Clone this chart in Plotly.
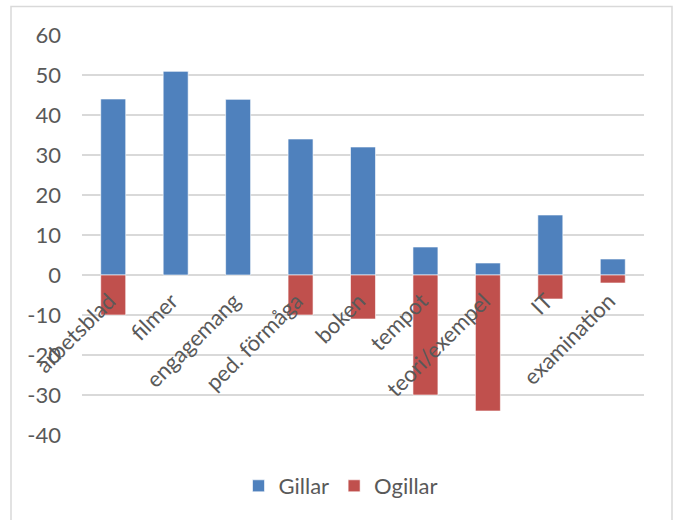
import plotly.graph_objects as go

categories = ["arbetsblad", "filmer", "engagemang", "ped. förmåga", "boken",
              "tempot", "teori/exempel", "IT", "examination"]
gillar = [44, 51, 44, 34, 32, 7, 3, 15, 4]
ogillar = [-10, 0, 0, -10, -11, -30, -34, -6, -2]
y_ticks = [-40, -30, -20, -10, 0, 10, 20, 30, 40, 50, 60]
y_tick_labels = ["-40", "-30", "-20", "-10", "0", "10", "20", "30", "40", "50", "60"]

W, H = 674, 520
L, R, T, B = 82, 30, 35, 85
pw, ph = W - L - R, H - T - B

FONT = "Lato"
GRAY = "#595959"
FS = 22

fig = go.Figure()
fig.add_trace(go.Bar(x=categories, y=gillar, name="Gillar", width=0.4,
                     marker=dict(color="#4F81BD", line=dict(color="#FFFFFF", width=0.6))))
fig.add_trace(go.Bar(x=categories, y=ogillar, name="Ogillar", width=0.4,
                     marker=dict(color="#C0504D", line=dict(color="#FFFFFF", width=0.6))))

ymin, ymax = -40, 60
zero_pos = (0 - ymin) / (ymax - ymin)

fig.update_layout(
    width=W, height=H,
    margin=dict(l=L, r=R, t=T, b=B, autoexpand=False),
    barmode="relative",
    plot_bgcolor="white", paper_bgcolor="white",
    font=dict(family=FONT, size=FS, color=GRAY),
    showlegend=True,
    legend=dict(orientation="h", x=0.46, xanchor="center", y=(H - 486 - B) / ph,
                yanchor="middle", font=dict(size=FS, color=GRAY),
                itemwidth=30, traceorder="normal"),
    xaxis=dict(type="category", anchor="free", position=zero_pos,
               tickangle=-45, showgrid=False, showline=False, ticks="",
               tickfont=dict(size=FS, color=GRAY), range=[-0.5, 8.5],
               ticklabelstandoff=8, ticklabelshift=-4),
    yaxis=dict(range=[ymin, ymax], tickvals=y_ticks, ticktext=y_tick_labels,
               showgrid=True,
               gridcolor="#D9D9D9", gridwidth=1.5, zeroline=True,
               zerolinecolor="#D9D9D9", zerolinewidth=1.5, showline=False,
               ticks="", tickfont=dict(size=FS, color=GRAY), ticklabelstandoff=20),
    shapes=[dict(type="rect", xref="paper", yref="paper",
                 x0=(11 - L) / pw, x1=(672 - L) / pw,
                 y0=(H - B - 530) / ph, y1=(H - B - 6.5) / ph,
                 line=dict(color="#D9D9D9", width=1.5), fillcolor="rgba(0,0,0,0)",
                 layer="below")],
)

fig.write_html("out.html")
